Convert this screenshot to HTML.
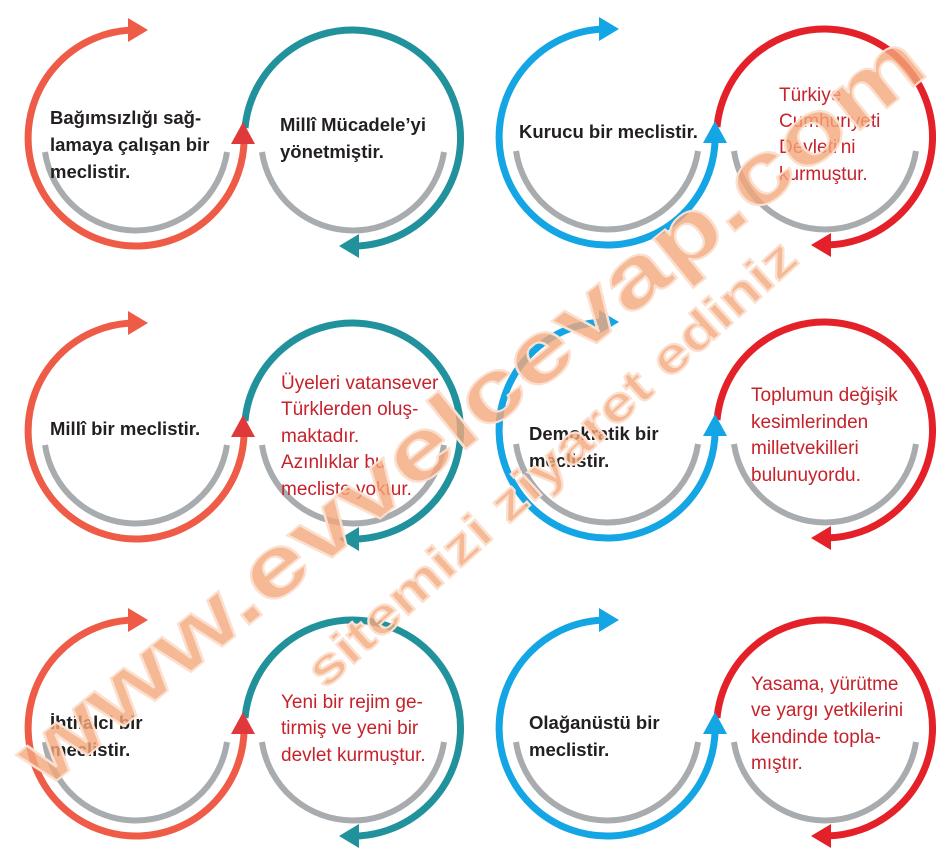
<!DOCTYPE html>
<html><head><meta charset="utf-8"><style>
html,body{margin:0;padding:0;background:#fff;}
svg{display:block;}
text{font-family:"Liberation Sans",Arial,sans-serif;font-size:19px;}
.b{font-weight:bold;fill:#231f20;font-size:18.5px;}
.r{fill:#c5222b;}
.t{fill:#c5222b;}
.wm{font-family:"Liberation Sans",sans-serif;font-weight:bold;fill:#f4a77c;fill-opacity:0.8;stroke:#fbe0cf;stroke-width:2;}
</style></head><body>
<svg width="949" height="867" viewBox="0 0 949 867" xmlns="http://www.w3.org/2000/svg">
<defs>
<g id="L">
 <path d="M-91,14 A92 92 0 0 0 91,14" fill="none" stroke="#a8acae" stroke-width="6"/>
 <path d="M0,-108 A108 108 0 1 0 108,-5" fill="none" stroke="currentColor" stroke-width="7"/>
</g>
<g id="R">
 <path d="M-91,14 A92 92 0 0 0 91,14" fill="none" stroke="#a8acae" stroke-width="6"/>
 <path d="M-108,-10 A108 108 0 1 1 -4,108" fill="none" stroke="currentColor" stroke-width="7"/>
 <polygon points="6,96 6,120 -14,108" fill="currentColor"/>
</g>
<g id="LA">
 <polygon points="-8,-120 -8,-96 12,-108" fill="currentColor"/>
</g>
</defs>

<g color="#ee5b47" transform="translate(136,138)"><use href="#L"/><use href="#LA"/></g>
<g color="#21929c" transform="translate(353,138)"><use href="#R"/></g>
<polygon points="231,144 255,144 243,122" fill="#e0393b"/>
<g color="#14a5e5" transform="translate(607,137)"><use href="#L"/><use href="#LA"/></g>
<g color="#e42129" transform="translate(825,137)"><use href="#R"/></g>
<polygon points="703,143 727,143 715,121" fill="#14a5e5"/>

<g color="#ee5b47" transform="translate(136,431)"><use href="#L"/><use href="#LA"/></g>
<g color="#21929c" transform="translate(353,431)"><use href="#R"/></g>
<polygon points="231,437 255,437 243,415" fill="#e0393b"/>
<g color="#14a5e5" transform="translate(607,430)"><use href="#L"/><use href="#LA"/></g>
<g color="#e42129" transform="translate(825,430)"><use href="#R"/></g>
<polygon points="703,436 727,436 715,414" fill="#14a5e5"/>

<g color="#ee5b47" transform="translate(136,728)"><use href="#L"/><use href="#LA"/></g>
<g color="#21929c" transform="translate(353,728)"><use href="#R"/></g>
<polygon points="231,734 255,734 243,712" fill="#e0393b"/>
<g color="#14a5e5" transform="translate(607,728)"><use href="#L"/><use href="#LA"/></g>
<g color="#e42129" transform="translate(825,728)"><use href="#R"/></g>
<polygon points="703,734 727,734 715,712" fill="#14a5e5"/>

<text class="b" x="50" y="124">Bağımsızlığı sağ-</text>
<text class="b" x="50" y="151">lamaya çalışan bir</text>
<text class="b" x="50" y="178">meclistir.</text>
<text class="b" x="280" y="131">Millî Mücadele’yi</text>
<text class="b" x="280" y="158">yönetmiştir.</text>

<text class="b" x="519" y="138">Kurucu bir meclistir.</text>
<text class="r" x="779" y="101">Türkiye</text>
<text class="r" x="779" y="127">Cumhuriyeti</text>
<text class="r" x="779" y="153">Devleti'ni</text>
<text class="r" x="779" y="180">kurmuştur.</text>

<text class="b" x="50" y="435">Millî bir meclistir.</text>
<text class="t" x="281" y="389">Üyeleri vatansever</text>
<text class="t" x="281" y="415">Türklerden oluş-</text>
<text class="t" x="281" y="442">maktadır.</text>
<text class="t" x="281" y="468">Azınlıklar bu</text>
<text class="t" x="281" y="495">mecliste yoktur.</text>

<text class="b" x="529" y="440">Demokratik bir</text>
<text class="b" x="529" y="467">meclistir.</text>
<text class="r" x="751" y="401">Toplumun değişik</text>
<text class="r" x="751" y="428">kesimlerinden</text>
<text class="r" x="751" y="454">milletvekilleri</text>
<text class="r" x="751" y="481">bulunuyordu.</text>

<text class="b" x="50" y="729">İhtilalci bir</text>
<text class="b" x="50" y="756">meclistir.</text>
<text class="t" x="281" y="708">Yeni bir rejim ge-</text>
<text class="t" x="281" y="734">tirmiş ve yeni bir</text>
<text class="t" x="281" y="761">devlet kurmuştur.</text>

<text class="b" x="529" y="729">Olağanüstü bir</text>
<text class="b" x="529" y="756">meclistir.</text>
<text class="r" x="751" y="690">Yasama, yürütme</text>
<text class="r" x="751" y="716">ve yargı yetkilerini</text>
<text class="r" x="751" y="743">kendinde topla-</text>
<text class="r" x="751" y="769">mıştır.</text>

<text class="wm" transform="translate(45,790) rotate(-39)" style="font-size:86px" textLength="1140" lengthAdjust="spacingAndGlyphs">www.evvelcevap.com</text>
<text class="wm" transform="translate(325,690) rotate(-42)" style="font-size:50px" textLength="640" lengthAdjust="spacingAndGlyphs">sitemizi ziyaret ediniz</text>
</svg>
</body></html>
